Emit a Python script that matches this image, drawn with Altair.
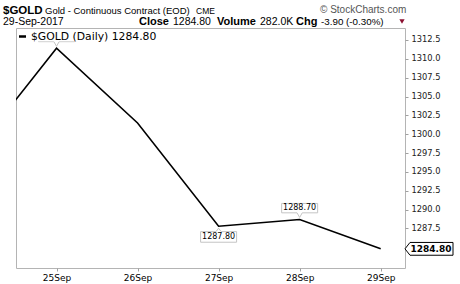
import altair as alt
import pandas as pd

# ---- data ----
days = ["22Sep", "25Sep", "26Sep", "27Sep", "28Sep", "29Sep"]
day_pos = [-1, 0, 1, 2, 3, 4]
closes = [1297.8, 1311.4, 1301.5, 1287.8, 1288.7, 1284.8]

x_tick_pos = [0, 1, 2, 3, 4]
y_ticks = [1287.5, 1290.0, 1292.5, 1295.0, 1297.5, 1300.0,
           1302.5, 1305.0, 1307.5, 1310.0, 1312.5]

note_pos = [0, 2, 3]
note_vals = [1311.40, 1287.80, 1288.70]
note_side = ["above", "below", "above"]
note_visible = [False, True, True]   # the peak label is hidden behind the legend

symbol = "$GOLD"
name = "Gold - Continuous Contract (EOD)"
exchange = "CME"
credit = "\u00a9 StockCharts.com"
date_txt = "29-Sep-2017"
close_txt = "1284.80"
volume_txt = "282.0K"
chg_txt = "-3.90 (-0.30%)"
legend_txt = "$GOLD (Daily) 1284.80"

# ---- frames ----
line_df = pd.DataFrame({"d": day_pos, "c": closes})
note_df = pd.DataFrame({"d": note_pos, "v": note_vals, "side": note_side,
                        "show": note_visible,
                        "label": [f"{v:.2f}" for v in note_vals]})
last_df = pd.DataFrame({"c": [closes[-1]], "label": [f"{closes[-1]:.2f}"]})

label_expr = " : ".join(
    f"datum.value == {p} ? '{d}'" for p, d in zip(day_pos, days)) + " : ''"

AX = "DejaVu Sans"
TF = "Liberation Sans"

x_scale = alt.Scale(domain=[-0.5, 4.3], nice=False, zero=False)
y_scale = alt.Scale(domain=[1282.26, 1314.09], nice=False, zero=False)

x_axis = alt.Axis(values=x_tick_pos, labelExpr=label_expr, grid=False,
                  domain=False, tickColor="#a0a0a0", tickSize=3,
                  labelFont=AX, labelFontSize=9, labelColor="black",
                  labelPadding=2, title=None)
y_axis = alt.Axis(orient="right", values=y_ticks, format=".1f",
                  grid=False, domain=False, tickColor="#a0a0a0",
                  tickSize=3, labelFont=AX, labelFontSize=8.3,
                  labelColor="#222", labelPadding=3, title=None,
                  labelOverlap=False, labelFlush=False, labelBound=False)

line = alt.Chart(line_df).mark_line(color="black", strokeWidth=1.6,
                                    clip=True).encode(
    x=alt.X("d:Q", scale=x_scale, axis=x_axis),
    y=alt.Y("c:Q", scale=y_scale, axis=y_axis))

ABOVE = "M-0.9,-0.33 L-0.13,-0.33 L0,-0.1 L0.13,-0.33 L0.9,-0.33 L0.9,-0.8 L-0.9,-0.8 Z"
BELOW = "M-0.9,0.27 L-0.13,0.27 L0,0.1 L0.13,0.27 L0.9,0.27 L0.9,0.8 L-0.9,0.8 Z"

xn = alt.X("d:Q", scale=x_scale, axis=x_axis)
yn = alt.Y("v:Q", scale=y_scale, axis=y_axis)

boxes = alt.Chart(note_df).mark_point(
    filled=True, fill="white", stroke="#c4c4c4", strokeWidth=1,
    size=1600, opacity=1, fillOpacity=1, strokeOpacity=1
).encode(
    x=xn, y=yn,
    shape=alt.Shape("side:N", scale=alt.Scale(domain=["above", "below"],
                                              range=[ABOVE, BELOW]), legend=None),
)
txt_above = alt.Chart(note_df).transform_filter(
    "datum.side == 'above' && datum.show").mark_text(
    dy=-11.5, font=AX, fontSize=8, color="black", baseline="middle"
).encode(x=xn, y=yn, text="label:N")
txt_below = alt.Chart(note_df).transform_filter(
    "datum.side == 'below' && datum.show").mark_text(
    dy=10.8, font=AX, fontSize=8, color="black", baseline="middle"
).encode(x=xn, y=yn, text="label:N")

one = pd.DataFrame({"k": [0]})
legend_bg = alt.Chart(one).mark_rect(fill="white").encode(
    x=alt.value(1), x2=alt.value(150), y=alt.value(1), y2=alt.value(13.2))
legend_dash = alt.Chart(one).mark_rule(color="black", strokeWidth=2.5).encode(
    x=alt.value(3), x2=alt.value(10), y=alt.value(8.5))
legend_text = alt.Chart(one).mark_text(
    font=AX, fontSize=10.8, align="left", baseline="middle", color="black"
).encode(x=alt.value(15), y=alt.value(8.5), text=alt.value(legend_txt))

TAG = "M0,0 L0.25,-0.32 L2.4,-0.32 L2.4,0.32 L0.25,0.32 Z"
yl = alt.Y("c:Q", scale=y_scale, axis=y_axis)
tag_box = alt.Chart(last_df).mark_point(
    filled=True, fill="white", stroke="black", strokeWidth=1, size=1600,
    opacity=1, fillOpacity=1, shape=TAG
).encode(x=alt.value(389), y=yl)
tag_text = alt.Chart(last_df).mark_text(
    font=AX, fontSize=9, fontWeight="bold", color="black", align="center",
    baseline="middle"
).encode(x=alt.value(415), y=yl, text="label:N")


def htext(t, x, y, size, weight="normal", color="black", font=TF, align="left"):
    return alt.Chart(one).mark_text(
        font=font, fontSize=size, fontWeight=weight, color=color,
        align=align, baseline="alphabetic"
    ).encode(x=alt.value(x), y=alt.value(y), text=alt.value(t))


header = [
    htext(symbol, -13, -14, 11.5, "bold"),
    htext(name, 29, -14, 9.5),
    htext(exchange, 180, -14, 8.5),
    htext(credit, 304, -15, 10, color="#555555"),
    htext(date_txt, -13, -3, 10.5),
    htext("Close", 123, -3, 11, "bold"),
    htext(close_txt, 157, -3, 10.5),
    htext("Volume", 201, -3, 11, "bold"),
    htext(volume_txt, 244, -3, 10.5),
    htext("Chg", 280, -3, 11, "bold"),
    htext(chg_txt, 305, -3, 9.8),
]
tri = alt.Chart(one).mark_point(shape="triangle-down", filled=True,
                                color="#8b1030", size=28, opacity=1).encode(
    x=alt.value(386), y=alt.value(-6.5))

chart = alt.layer(
    line, boxes, txt_above, txt_below, legend_bg, legend_dash, legend_text,
    tag_box, tag_text, *header, tri
).properties(
    width=389, height=240,
    autosize=alt.AutoSizeParams(type="none"),
    padding={"left": 16, "top": 28, "right": 55, "bottom": 16},
    background="white",
).configure_view(stroke="#b4b4b4", strokeWidth=1
).configure_axis(labelOverlap=False)

chart.save("out.html", embed_options={"renderer": "svg", "actions": False})
